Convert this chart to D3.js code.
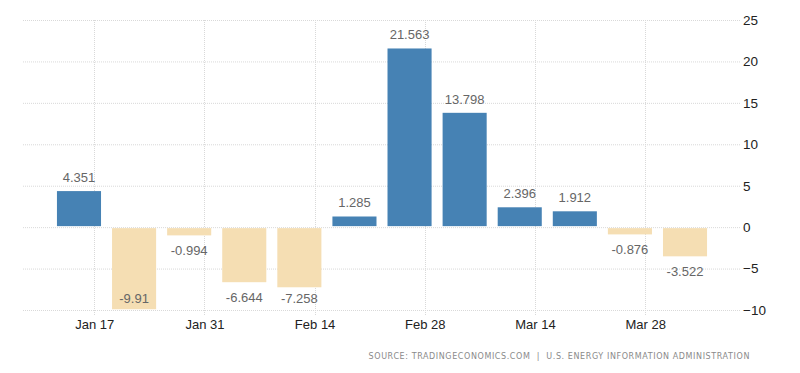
<!DOCTYPE html>
<html><head><meta charset="utf-8">
<script src="https://cdn.jsdelivr.net/npm/d3@7"></script>
<style>body{margin:0;background:#fff}svg{display:block}</style>
</head><body>
<svg id="c" width="800" height="373"></svg>
<script>
const dates = ["2021-01-15","2021-01-22","2021-01-29","2021-02-05","2021-02-12","2021-02-19","2021-02-26","2021-03-05","2021-03-12","2021-03-19","2021-03-26","2021-04-02"];
const values = [4.351,-9.91,-0.994,-6.644,-7.258,1.285,21.563,13.798,2.396,1.912,-0.876,-3.522];
const yTicks = [25,20,15,10,5,0,-5,-10];
const xTickDates = ["2021-01-17","2021-01-31","2021-02-14","2021-02-28","2021-03-14","2021-03-28"];
const sourceText = "SOURCE: TRADINGECONOMICS.COM | U.S. ENERGY INFORMATION ADMINISTRATION";

(function(){
const parse = d3.utcParse("%Y-%m-%d");
const data = dates.map((d,i)=>({date:parse(d), value:values[i]}));
const svg = d3.select("#c");
const mL = 23, mR = 740, mT = 20, mB = 310;
const DAY = 864e5;
const x = d3.scaleUtc()
  .domain([new Date(data[0].date - 7.05*DAY), new Date(+data[data.length-1].date + 7.05*DAY)])
  .range([mL, mR]);
const y = d3.scaleLinear().domain([-10,25]).range([mB, mT]);
const barW = (x(data[1].date)-x(data[0].date))*0.8;

// grid
const g = svg.append("g");
g.selectAll(".hg").data(yTicks).join("line")
  .attr("x1", mL).attr("x2", mR)
  .attr("y1", d=>y(d)+0.5).attr("y2", d=>y(d)+0.5)
  .attr("stroke","#d9d9d9").attr("stroke-dasharray","1,1");
g.selectAll(".vg").data(xTickDates.map(parse)).join("line")
  .attr("x1", d=>Math.round(x(d))+0.5).attr("x2", d=>Math.round(x(d))+0.5)
  .attr("y1", mT).attr("y2", mB+5)
  .attr("stroke","#d9d9d9").attr("stroke-dasharray","1,1");

// bars
svg.selectAll(".bar").data(data).join("rect")
  .attr("x", d=>x(d.date)-barW/2 + 0.5)
  .attr("width", barW)
  .attr("y", d=> d.value>=0 ? y(d.value) : y(0)+1)
  .attr("height", d=> d.value>=0 ? y(0)-y(d.value)-1 : y(d.value)-y(0)-1)
  .attr("fill", d=> d.value>=0 ? "#4682B4" : "#F5DEB3");

// labels
svg.selectAll(".lbl").data(data).join("text")
  .attr("x", d=>x(d.date)+0.5)
  .attr("y", d=> d.value>=0 ? y(d.value)-9 : Math.min(y(d.value)+20, mB-7))
  .attr("text-anchor","middle")
  .attr("font-family","Liberation Sans, Arial, sans-serif")
  .attr("font-size",13).attr("fill","#666")
  .text(d=>d.value);

// y axis (right)
const ya = svg.append("g").attr("transform",`translate(${mR+3},0)`)
  .call(d3.axisRight(y).tickValues(yTicks).tickSize(0).tickPadding(0).tickFormat(d3.format("d")));
ya.select(".domain").remove();
ya.selectAll("text").attr("font-family","Liberation Sans, Arial, sans-serif")
  .attr("font-size",13.5).attr("fill","#222");

// x axis
const xa = svg.append("g").attr("transform",`translate(0,${mB+8})`)
  .call(d3.axisBottom(x).tickValues(xTickDates.map(parse)).tickSize(0).tickPadding(2).tickFormat(d3.utcFormat("%b %d")));
xa.select(".domain").remove();
xa.selectAll("text").attr("font-family","Liberation Sans, Arial, sans-serif")
  .attr("font-size",13).attr("fill","#222");

svg.append("text").attr("x",750).attr("y",359).attr("text-anchor","end")
  .attr("font-family","DejaVu Sans, sans-serif").attr("font-size",8).attr("letter-spacing","0.6")
  .attr("fill","#8a8a8a").attr("xml:space","preserve").style("white-space","pre")
  .text(sourceText.replace(" | ","  |  "));
})();
</script>
</body></html>
